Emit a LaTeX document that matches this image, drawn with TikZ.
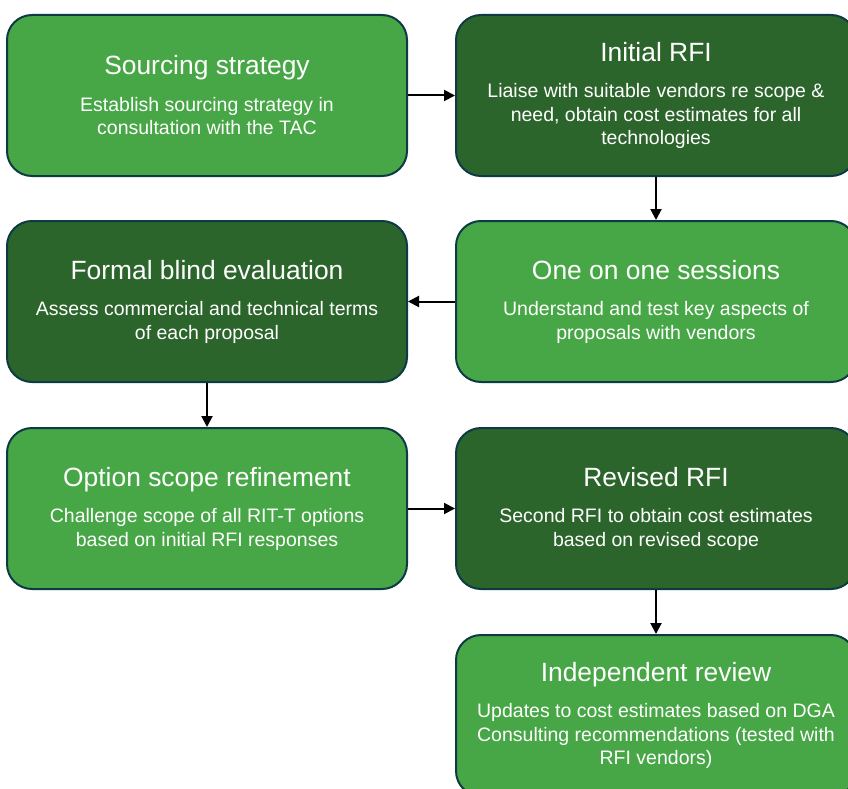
\documentclass[tikz,border=0pt]{standalone}
\usepackage{fontspec}
\setmainfont{Liberation Sans}
\usetikzlibrary{arrows.meta}
\definecolor{lightg}{HTML}{47A746}
\definecolor{darkg}{HTML}{2C652B}
\definecolor{bordercol}{HTML}{0E3A44}
\newcommand{\ttl}[1]{{\fontsize{26.4}{30}\selectfont #1}\\[13pt]}
\tikzset{
  box/.style={rounded corners=25pt, draw=bordercol, line width=2pt,
    minimum width=400pt, minimum height=161pt, align=center, text=white,
    inner sep=0pt, font=\fontsize{19.5}{23.5}\selectfont},
  lightbox/.style={box, fill=lightg},
  darkbox/.style={box, fill=darkg},
  arr/.style={line width=2pt, -{Triangle[length=11pt,width=11pt]}}
}
\begin{document}
\begin{tikzpicture}[x=1pt,y=-1pt]
\useasboundingbox (0,0) rectangle (848,789);
\clip (0,0) rectangle (848,789);
\node[lightbox] (b1) at (207,95.5) {\ttl{Sourcing strategy}Establish sourcing strategy in\\consultation with the TAC};
\node[darkbox] (b2) at (656,95.5) {\ttl{Initial RFI}Liaise with suitable vendors re scope \&\\need, obtain cost estimates for all\\technologies};
\node[darkbox] (b3) at (207,301.5) {\ttl{Formal blind evaluation}Assess commercial and technical terms\\of each proposal};
\node[lightbox] (b4) at (656,301.5) {\ttl{One on one sessions}Understand and test key aspects of\\proposals with vendors};
\node[lightbox] (b5) at (207,508.5) {\ttl{Option scope refinement}Challenge scope of all RIT-T options\\based on initial RFI responses};
\node[darkbox] (b6) at (656,508.5) {\ttl{Revised RFI}Second RFI to obtain cost estimates\\based on revised scope};
\node[lightbox] (b7) at (656,715.5) {\ttl{Independent review}Updates to cost estimates based on DGA\\Consulting recommendations (tested with\\RFI vendors)};
\draw[arr] (b1) -- (b2);
\draw[arr] (b2) -- (b4);
\draw[arr] (b4) -- (b3);
\draw[arr] (b3) -- (b5);
\draw[arr] (b5) -- (b6);
\draw[arr] (b6) -- (b7);
\end{tikzpicture}
\end{document}
